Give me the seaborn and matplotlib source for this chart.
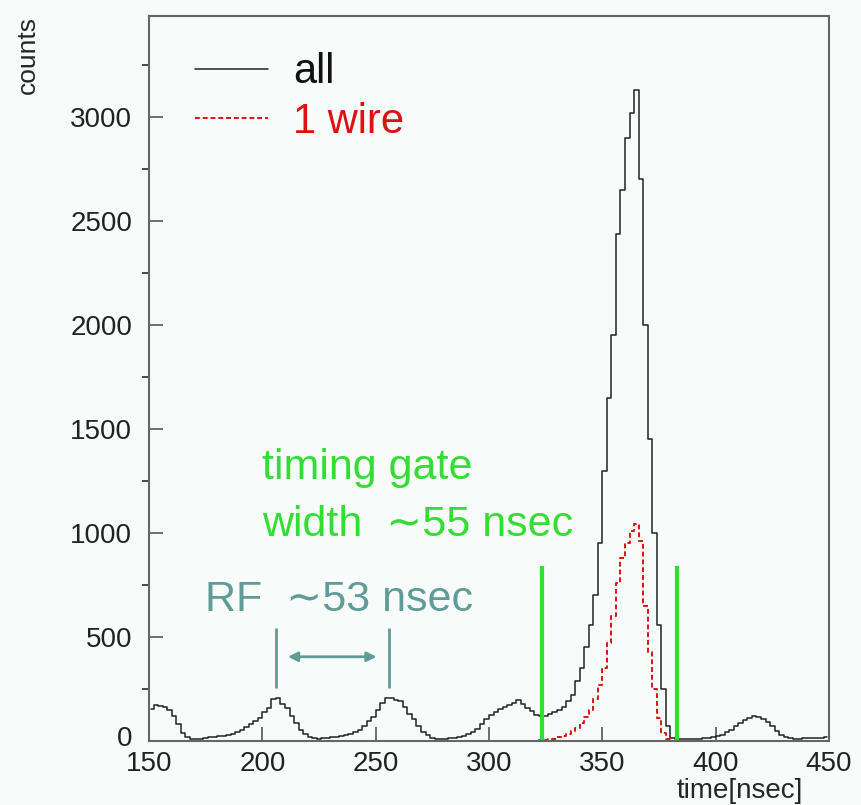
import matplotlib
matplotlib.use("Agg")
import matplotlib.pyplot as plt
import matplotlib.transforms as mtransforms
import numpy as np
import pandas as pd
import seaborn as sns

# --- data (2 nsec bins, bin centres) ---
time_all = np.arange(151, 450, 2)
counts_all = [
    155, 172, 170, 165, 150, 120, 80, 40, 18, 10,          # 151-169
    12, 12, 15, 18, 18, 22, 25, 28, 35, 45,                # 171-189
    55, 68, 80, 95, 112, 140, 160, 200, 205, 180,          # 191-209
    160, 120, 85, 55, 32, 20, 15, 12, 14, 15,              # 211-229
    18, 20, 24, 28, 35, 45, 55, 72, 95, 115,               # 231-249
    150, 185, 205, 205, 198, 190, 165, 130, 105, 70,       # 251-269
    42, 28, 15, 12, 10, 12, 14, 16, 20, 25,                # 271-289
    32, 45, 58, 80, 108, 125, 140, 155, 165, 175,          # 291-309
    185, 195, 180, 160, 145, 125, 118, 120, 130, 140,      # 311-329
    150, 165, 190, 220, 290, 350, 450, 560, 700, 950,      # 331-349
    1300, 1650, 1950, 2440, 2650, 2900, 3020, 3130, 2700, 2000,  # 351-369
    1450, 1000, 560, 250, 70, 15, 8, 8, 10, 10,            # 371-389
    12, 12, 14, 16, 18, 22, 30, 42, 55, 70,                # 391-409
    85, 100, 112, 120, 115, 105, 92, 70, 48, 30,           # 411-429
    18, 14, 12, 12, 14, 14, 15, 15, 16, 18,                # 431-449
]

time_wire = np.arange(301, 390, 2)
counts_wire = [
    0, 0, 0, 1, 1, 1, 1, 1, 1, 1,                          # 301-319
    2, 3, 5, 8, 12, 18, 25, 35, 48, 62,                    # 321-339
    85, 115, 150, 200, 270, 350, 470, 600, 760, 880,       # 341-359
    950, 1010, 1045, 960, 650, 430, 250, 110, 40, 10,      # 361-379
    2, 0, 0, 0, 0,                                         # 381-389
]

rf_marks = [206, 256]          # RF bunch peaks
gate_edges = [323.6, 383.1]    # timing gate

df_all = pd.DataFrame({"time": time_all, "counts": counts_all})
df_wire = pd.DataFrame({"time": time_wire, "counts": counts_wire})

sns.set_style("ticks")
plt.rcParams["font.family"] = ["Liberation Sans", "DejaVu Sans"]

bg = "#f7fbf9"
teal = "#5f9c98"
green = "#33dd33"

fig = plt.figure(figsize=(8.61, 8.05), dpi=100, facecolor=bg)
ax = fig.add_axes([149 / 861, 64 / 805, 680 / 861, 725 / 805])
ax.set_facecolor(bg)

sns.lineplot(data=df_all, x="time", y="counts", drawstyle="steps-mid",
             color="#222222", linewidth=1.1, label="all", ax=ax)
sns.lineplot(data=df_wire, x="time", y="counts", drawstyle="steps-mid",
             color="#dd1111", linewidth=1.4, linestyle=(0, (2.5, 1.5)),
             label="1 wire", ax=ax)

# timing gate
ax.vlines(gate_edges, 0, 840, color=green, linewidth=3)
# RF spacing marks
ax.vlines(rf_marks, 255, 543, color=teal, linewidth=2)
ax.annotate("", xy=(rf_marks[1] - 5.6, 405), xytext=(rf_marks[0] + 5.3, 405),
            arrowprops=dict(arrowstyle="<|-|>", color=teal, lw=2,
                            mutation_scale=14, shrinkA=0, shrinkB=0))

ax.text(174.7, 678, "RF  \u223c53 nsec", color=teal, fontsize=31,
        va="center", ha="left")
ax.text(199.9, 1312, "timing gate", color=green, fontsize=31,
        va="center", ha="left")
ax.text(199.9, 1038, "width  \u223c55 nsec", color=green, fontsize=31,
        va="center", ha="left")

ax.set_xlim(150, 450)
ax.set_ylim(0, 3486)
ax.set_xticks([150, 200, 250, 300, 350, 400, 450])
ax.set_yticks([0, 500, 1000, 1500, 2000, 2500, 3000])
ax.set_yticks(np.arange(250, 3486, 500), minor=True)

ax.tick_params(axis="both", direction="in", colors="#555555",
               labelcolor="#222222", labelsize=20)
ax.tick_params(axis="y", which="major", length=10, width=1.2, pad=12)
ax.tick_params(axis="y", which="minor", length=5, width=1.2)
ax.tick_params(axis="x", which="major", length=10, width=1.2, pad=7)

# lift the "0" a little so it clears the "150" below it
zero_lbl = ax.yaxis.get_major_ticks()[0].label1
zero_lbl.set_transform(zero_lbl.get_transform() +
                       mtransforms.ScaledTranslation(0, 5 / 100, fig.dpi_scale_trans))

for s in ax.spines.values():
    s.set_color("#666666")
    s.set_linewidth(1.5)

ax.set_xlabel("time[nsec]", fontsize=20, loc="right")
ax.xaxis.set_label_coords(0.962, -0.069)
ax.xaxis.label.set_va("center")
ax.set_ylabel("counts", fontsize=19, loc="top")
ax.yaxis.set_label_coords(-0.16, 1.0)

leg = ax.legend(loc="upper left", bbox_to_anchor=(0.025, 0.99), frameon=False,
                fontsize=30, handlelength=1.75, handletextpad=0.6,
                labelspacing=0.22, borderaxespad=0.3)
for txt, col in zip(leg.get_texts(), ["#111111", "#dd1111"]):
    txt.set_color(col)

fig.savefig("out.png", dpi=100, facecolor=bg)
